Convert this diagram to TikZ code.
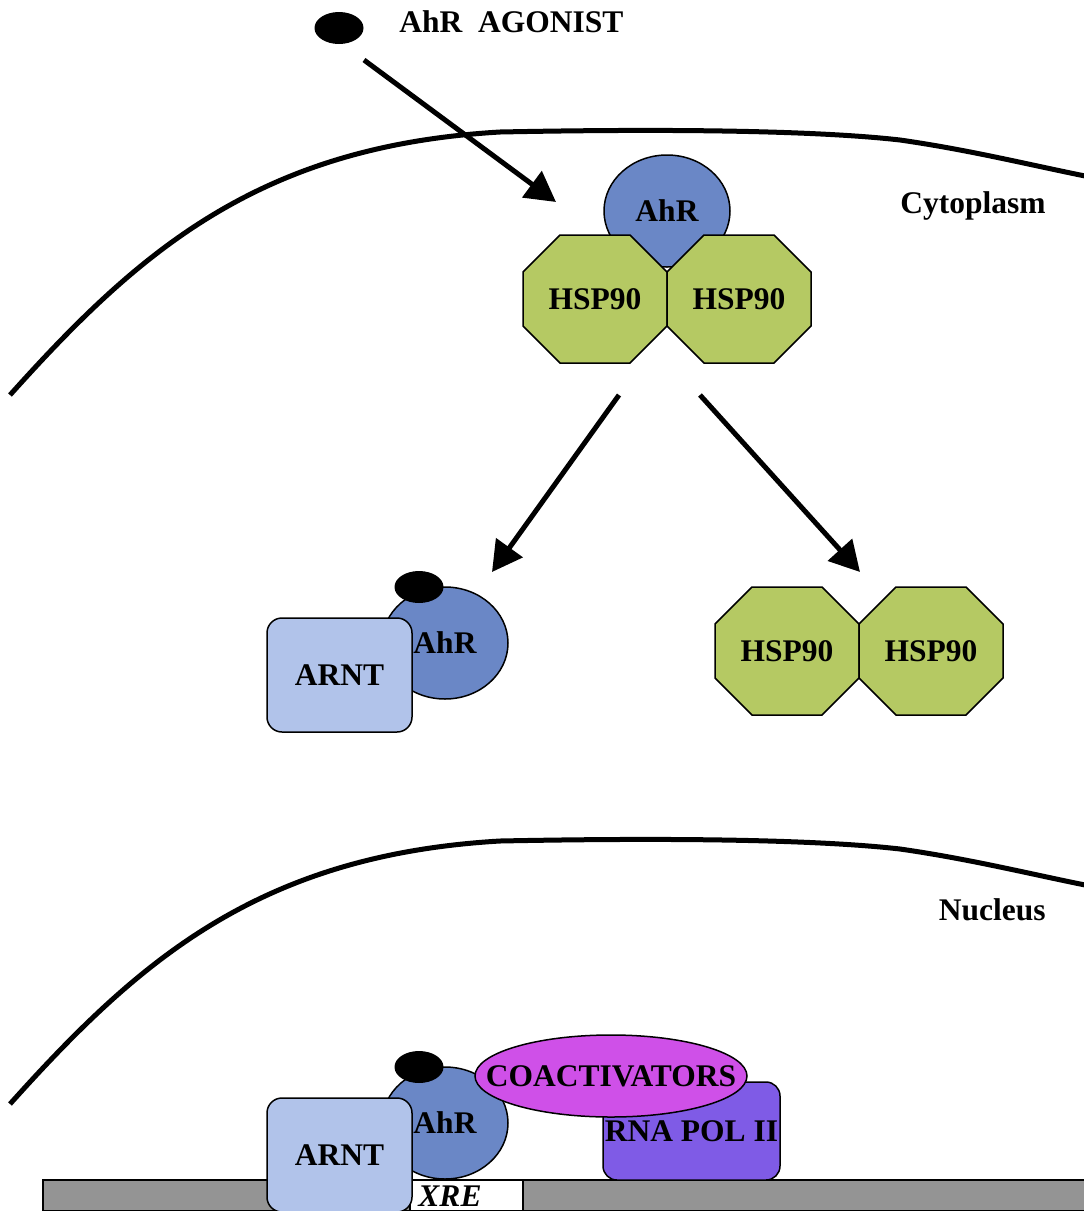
\documentclass[tikz,border=0pt]{standalone}
\usepackage{fontspec}
\setmainfont{Liberation Serif}
\usepackage{xcolor}
\usetikzlibrary{arrows.meta,shapes.geometric}

\definecolor{ahrblue}{RGB}{106,135,198}
\definecolor{arntblue}{RGB}{177,195,234}
\definecolor{hspgreen}{RGB}{181,201,99}
\definecolor{polpurple}{RGB}{127,91,230}
\definecolor{coactpink}{RGB}{207,80,232}
\definecolor{dnagray}{RGB}{148,148,148}

% octagon with label: centre x, centre y, name
\newcommand{\hspoct}[3]{%
  \draw[hsp] (#1-72,#2-27) -- (#1-35,#2-64) -- (#1+35,#2-64) -- (#1+72,#2-27)
    -- (#1+72,#2+27) -- (#1+35,#2+64) -- (#1-35,#2+64) -- (#1-72,#2+27) -- cycle;
  \node (#3) at (#1,#2) {HSP90};}

\begin{document}
\begin{tikzpicture}[x=0.5pt,y=-0.5pt,>={Triangle[length=15pt,width=16pt]},
  every node/.style={font=\fontsize{15.75}{18}\selectfont\bfseries},
  tag/.style={inner sep=0pt},
  ligand/.style={ellipse,fill=black,minimum width=24.5pt,minimum height=16pt,inner sep=0pt},
  ahr/.style={ellipse,draw,fill=ahrblue,line width=0.75pt,minimum width=63pt,minimum height=56pt,inner sep=0pt},
  arnt/.style={rectangle,rounded corners=7.5pt,draw,fill=arntblue,line width=0.75pt,minimum width=72.5pt,minimum height=57pt,inner sep=0pt},
  hsp/.style={draw,fill=hspgreen,line width=0.75pt},
  membrane/.style={line width=2.5pt},
  move/.style={->,line width=2.5pt}]
\useasboundingbox (0,0) rectangle (1083,1211);

% membranes
\foreach \dy in {0,709}{
  \draw[membrane] (10,395+\dy) .. controls (140,250+\dy) and (260,146+\dy) .. (500,132+\dy)
    .. controls (700,128+\dy) and (830,132+\dy) .. (900,140+\dy)
    .. controls (970,150+\dy) and (1030,165+\dy) .. (1090,177+\dy);
}
\node[tag,anchor=east] (cyto) at (1046,206) {Cytoplasm};
\node[tag,anchor=east] (nuc) at (1046,910) {Nucleus};

% agonist
\node[ligand] (ago) at (339,28) {};
\node[tag,anchor=west] (agolabel) at (399,22) {AhR~~AGONIST};
\coordinate (agostart) at (364,60);
\coordinate (agotip) at (556,202);
\draw[move] (agostart) -- (agotip);

% AhR / HSP90 complex
\node[ahr] (ahrtop) at (667,211) {AhR};
\hspoct{595}{299}{hspa}
\hspoct{739}{299}{hspb}

\coordinate (splitl) at (619,395);
\coordinate (splitr) at (700,395);
\coordinate (tipl) at (492,572);
\coordinate (tipr) at (860,572);
\draw[move] (splitl) -- (tipl);
\draw[move] (splitr) -- (tipr);

% released AhR with ARNT
\node[ahr] (ahrmid) at (445,643) {AhR};
\node[ligand] (agomid) at (419,587) {};
\node[arnt] (arntmid) at (339.5,675) {ARNT};

% released HSP90
\hspoct{787}{651}{hspc}
\hspoct{931}{651}{hspd}

% DNA
\draw[fill=dnagray,line width=0.75pt] (43,1180) rectangle (1088,1210.5);
\draw[fill=white,line width=0.75pt] (410,1180) rectangle (523,1210.5);
\node[font=\fontsize{15.75}{18}\selectfont\bfseries\itshape] (xre) at (450,1196) {XRE};

% bound complex
\node[ahr] (ahrlow) at (445,1123) {AhR};
\node[ligand] (agolow) at (419,1067) {};
\node[arnt] (arntlow) at (339.5,1155) {ARNT};
\node[rectangle,rounded corners=7pt,draw,fill=polpurple,line width=0.75pt,minimum width=88.5pt,minimum height=49pt,inner sep=0pt] (pol) at (691.5,1131) {\makebox[0pt]{RNA POL II}};
\node[ellipse,draw,fill=coactpink,line width=0.75pt,minimum width=136pt,minimum height=41pt,inner sep=0pt] (coact) at (611,1076) {\makebox[0pt]{COACTIVATORS}};
\end{tikzpicture}
\end{document}
